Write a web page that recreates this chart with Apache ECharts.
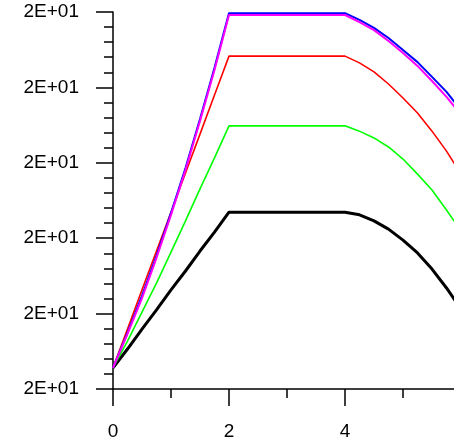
<!DOCTYPE html>
<html>
<head>
<meta charset="utf-8">
<script src="https://cdn.jsdelivr.net/npm/echarts@6/dist/echarts.min.js"></script>
<style>
  html, body { margin: 0; padding: 0; background: #fff; }
  #chart { width: 454px; height: 438px; }
</style>
</head>
<body>
<div id="chart"></div>
<script>
  // x positions shared by all curves
  var xs = [0, 0.25, 0.5, 0.75, 1, 1.25, 1.5, 1.75, 2, 4, 4.25, 4.5, 4.75, 5, 5.25, 5.5, 5.75, 6];

  var blueVals = [20.056, 20.149, 20.247, 20.353, 20.467, 20.586, 20.716, 20.852, 20.997,
    20.997, 20.979, 20.958, 20.931, 20.899, 20.867, 20.828, 20.788, 20.740];
  var magentaVals = [20.056, 20.146, 20.241, 20.348, 20.462, 20.581, 20.711, 20.846, 20.992,
    20.992, 20.973, 20.952, 20.923, 20.891, 20.857, 20.817, 20.775, 20.727];
  var redVals = [20.056, 20.159, 20.263, 20.366, 20.469, 20.573, 20.676, 20.780, 20.883,
    20.883, 20.865, 20.841, 20.809, 20.772, 20.732, 20.684, 20.631, 20.570];
  var greenVals = [20.056, 20.127, 20.204, 20.281, 20.363, 20.446, 20.531, 20.613, 20.698,
    20.698, 20.684, 20.666, 20.642, 20.610, 20.570, 20.528, 20.475, 20.419];
  var blackVals = [20.056, 20.106, 20.159, 20.210, 20.263, 20.313, 20.366, 20.416, 20.469,
    20.469, 20.462, 20.446, 20.424, 20.395, 20.361, 20.318, 20.268, 20.212];

  function pairs(vals) {
    return xs.map(function (x, i) { return [x, vals[i]]; });
  }

  // 20 -> "2E+01"
  function sci(v) {
    if (v === 0) return '0E+00';
    var e = Math.floor(Math.log10(Math.abs(v)));
    var m = Math.round(v / Math.pow(10, e));
    if (Math.abs(m) >= 10) { m = m / 10; e += 1; }
    var s = Math.abs(e) < 10 ? '0' + Math.abs(e) : '' + Math.abs(e);
    return m + 'E' + (e < 0 ? '-' : '+') + s;
  }

  function line(name, color, width, vals) {
    return {
      name: name,
      type: 'line',
      showSymbol: false,
      symbol: 'none',
      lineStyle: { color: color, width: width },
      data: pairs(vals)
    };
  }

  var axisFont = { color: '#000', fontSize: 19, fontFamily: 'Liberation Sans, Arial, sans-serif' };
  var chart = echarts.init(document.getElementById('chart'));
  chart.setOption({
    animation: false,
    backgroundColor: '#ffffff',
    // plot runs past the right edge (x = 6 is cut off)
    grid: { left: 113, top: 12, height: 377, width: 348, containLabel: false, outerBoundsMode: 'none' },
    xAxis: {
      type: 'value',
      min: 0,
      max: 6,
      interval: 2,
      axisLine: { show: true, lineStyle: { color: '#000', width: 1.5 } },
      axisTick: { show: true, inside: false, length: 17, lineStyle: { color: '#000', width: 1.5 } },
      minorTick: { show: true, splitNumber: 2, length: 9, lineStyle: { color: '#000', width: 1.5 } },
      axisLabel: Object.assign({ margin: 33, hideOverlap: false }, axisFont),
      splitLine: { show: false }
    },
    yAxis: {
      type: 'value',
      min: 20,
      max: 21,
      interval: 0.2,
      axisLine: { show: true, lineStyle: { color: '#000', width: 1.5 } },
      axisTick: { show: true, inside: false, length: 17, lineStyle: { color: '#000', width: 1.5 } },
      minorTick: { show: true, splitNumber: 5, length: 9, lineStyle: { color: '#000', width: 1.5 } },
      axisLabel: Object.assign({ margin: 34, formatter: sci }, axisFont),
      splitLine: { show: false }
    },
    series: [
      line('black', '#000000', 3, blackVals),
      line('green', '#00ff00', 1.6, greenVals),
      line('red', '#ff0000', 1.6, redVals),
      line('blue', '#0000ff', 2, blueVals),
      line('magenta', '#ff00ff', 2, magentaVals)
    ]
  });
</script>
</body>
</html>
